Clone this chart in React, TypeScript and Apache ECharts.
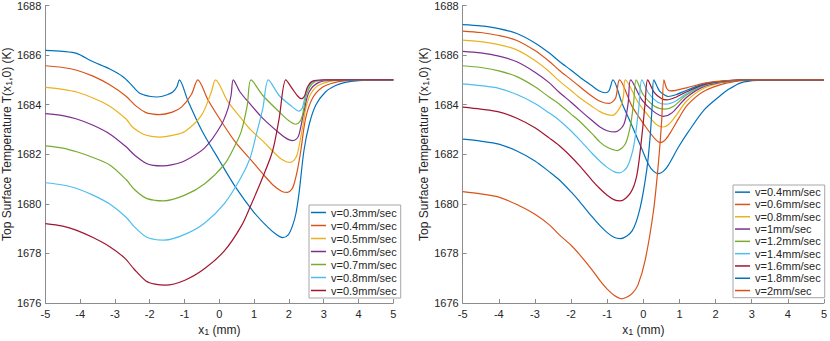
import React, { useEffect, useRef } from "react";
import * as echarts from "echarts";

// ---- Data (x in mm, T in K) ----
const xTicks = [-5, -4, -3, -2, -1, 0, 1, 2, 3, 4, 5];
const yTicks = [1676, 1678, 1680, 1682, 1684, 1686, 1688];

const leftNames = ["v=0.3mm/sec", "v=0.4mm/sec", "v=0.5mm/sec", "v=0.6mm/sec", "v=0.7mm/sec", "v=0.8mm/sec", "v=0.9mm/sec"];
const rightNames = ["v=0.4mm/sec", "v=0.6mm/sec", "v=0.8mm/sec", "v=1mm/sec", "v=1.2mm/sec", "v=1.4mm/sec", "v=1.6mm/sec", "v=1.8mm/sec", "v=2mm/sec"];

const left03 = [[-5, 1686.19], [-4.5, 1686.15], [-4.1, 1686.07], [-3.67, 1685.76], [-3.15, 1685.44], [-2.77, 1685.13], [-2.54, 1684.82], [-2.3, 1684.47], [-2.01, 1684.34], [-1.78, 1684.31], [-1.5, 1684.4], [-1.33, 1684.52], [-1.22, 1684.72], [-1.15, 1685.0], [-0.9, 1684.15], [-0.5, 1682.95], [0.0, 1681.75], [0.5, 1680.6], [1.0, 1679.65], [1.4, 1679.05], [1.65, 1678.75], [1.82, 1678.64], [1.98, 1678.75], [2.1, 1679.1], [2.2, 1679.6], [2.29, 1680.42], [2.43, 1682.13], [2.58, 1683.19], [2.77, 1683.98], [3.05, 1684.51], [3.34, 1684.77], [3.62, 1684.9], [4.0, 1684.97], [4.5, 1685.0], [5, 1685.0]];
const left04 = [[-5, 1685.57], [-4.5, 1685.5], [-4.1, 1685.39], [-3.63, 1685.15], [-3.15, 1684.8], [-2.68, 1684.34], [-2.39, 1683.94], [-2.11, 1683.68], [-1.9, 1683.62], [-1.73, 1683.6], [-1.35, 1683.7], [-1.08, 1683.91], [-0.8, 1684.42], [-0.62, 1685.0], [-0.32, 1684.18], [0.06, 1683.32], [0.44, 1682.53], [0.89, 1681.8], [1.25, 1681.21], [1.55, 1680.75], [1.8, 1680.5], [1.96, 1680.46], [2.08, 1680.58], [2.15, 1680.81], [2.25, 1681.4], [2.34, 1682.13], [2.48, 1683.45], [2.67, 1684.24], [2.96, 1684.7], [3.34, 1684.9], [3.8, 1684.98], [4.5, 1685.0], [5, 1685.0]];
const left05 = [[-5, 1684.7], [-4.5, 1684.62], [-4.1, 1684.51], [-3.63, 1684.27], [-3.15, 1683.94], [-2.68, 1683.42], [-2.49, 1683.09], [-2.2, 1682.82], [-1.95, 1682.72], [-1.7, 1682.69], [-1.35, 1682.76], [-0.99, 1682.92], [-0.51, 1683.58], [-0.23, 1684.51], [-0.11, 1685.0], [0.25, 1684.11], [0.63, 1683.45], [0.89, 1683.0], [1.25, 1682.53], [1.72, 1681.87], [1.92, 1681.7], [2.05, 1681.67], [2.16, 1681.78], [2.24, 1682.0], [2.39, 1683.06], [2.53, 1684.11], [2.77, 1684.7], [3.15, 1684.93], [3.6, 1684.99], [4.5, 1685.0], [5, 1685.0]];
const left06 = [[-5, 1683.64], [-4.5, 1683.56], [-4.1, 1683.42], [-3.63, 1683.17], [-3.15, 1682.82], [-2.68, 1682.3], [-2.44, 1681.97], [-2.11, 1681.64], [-1.9, 1681.55], [-1.63, 1681.53], [-1.35, 1681.58], [-0.99, 1681.74], [-0.42, 1682.26], [0.06, 1683.19], [0.25, 1683.85], [0.34, 1684.4], [0.4, 1685.0], [0.6, 1684.5], [0.89, 1684.02], [1.25, 1683.45], [1.72, 1682.86], [1.95, 1682.62], [2.1, 1682.55], [2.22, 1682.62], [2.29, 1682.79], [2.43, 1683.71], [2.58, 1684.51], [2.86, 1684.9], [3.3, 1684.98], [4.0, 1685.0], [5, 1685.0]];
const left07 = [[-5, 1682.34], [-4.5, 1682.25], [-4.1, 1682.1], [-3.63, 1681.87], [-3.15, 1681.57], [-2.68, 1680.98], [-2.44, 1680.58], [-2.11, 1680.23], [-1.85, 1680.14], [-1.6, 1680.12], [-0.99, 1680.35], [-0.42, 1680.81], [0.15, 1681.6], [0.45, 1682.35], [0.63, 1682.92], [0.8, 1683.95], [0.91, 1685.0], [1.25, 1684.37], [1.72, 1683.71], [2.0, 1683.35], [2.2, 1683.21], [2.32, 1683.33], [2.39, 1683.58], [2.53, 1684.51], [2.77, 1684.94], [3.3, 1685.0], [5, 1685.0]];
const left08 = [[-5, 1680.85], [-4.5, 1680.76], [-4.1, 1680.62], [-3.63, 1680.35], [-3.15, 1679.99], [-2.68, 1679.46], [-2.44, 1679.07], [-2.11, 1678.67], [-1.85, 1678.56], [-1.58, 1678.54], [-0.99, 1678.77], [-0.42, 1679.23], [0.15, 1680.02], [0.63, 1681.08], [0.89, 1681.87], [1.06, 1682.79], [1.25, 1683.85], [1.41, 1685.0], [1.72, 1684.37], [2.1, 1683.91], [2.29, 1683.74], [2.38, 1683.85], [2.43, 1684.11], [2.53, 1684.64], [2.72, 1684.94], [3.2, 1685.0], [5, 1685.0]];
const left09 = [[-5, 1679.2], [-4.5, 1679.1], [-4.1, 1678.93], [-3.63, 1678.64], [-3.15, 1678.27], [-2.72, 1677.81], [-2.44, 1677.35], [-2.11, 1676.89], [-1.85, 1676.76], [-1.55, 1676.72], [-0.99, 1676.92], [-0.42, 1677.39], [0.15, 1678.11], [0.63, 1679.1], [0.89, 1679.89], [1.25, 1681.08], [1.53, 1682.13], [1.72, 1683.45], [1.91, 1685.0], [2.1, 1684.64], [2.25, 1684.35], [2.36, 1684.24], [2.45, 1684.35], [2.53, 1684.7], [2.67, 1684.94], [3.0, 1685.0], [5, 1685.0]];

const right04 = [[-5, 1687.23], [-4.5, 1687.18], [-4, 1687.07], [-3.5, 1686.87], [-3, 1686.49], [-2.6, 1686.08], [-2.33, 1685.75], [-2.0, 1685.39], [-1.78, 1685.14], [-1.42, 1684.76], [-1.23, 1684.56], [-1.05, 1684.48], [-0.95, 1684.56], [-0.84, 1685.0], [-0.59, 1684.06], [-0.31, 1683.14], [-0.04, 1682.21], [0.14, 1681.6], [0.28, 1681.32], [0.42, 1681.22], [0.56, 1681.32], [0.69, 1681.55], [0.97, 1682.28], [1.23, 1682.87], [1.69, 1683.8], [2.15, 1684.39], [2.33, 1684.59], [2.7, 1684.88], [3.15, 1684.98], [4.0, 1685.0], [5, 1685.0]];
const right06 = [[-5, 1686.97], [-4.5, 1686.91], [-4, 1686.79], [-3.5, 1686.59], [-3, 1686.18], [-2.6, 1685.74], [-2.33, 1685.39], [-2.0, 1685.01], [-1.78, 1684.75], [-1.42, 1684.34], [-1.2, 1684.14], [-0.95, 1684.05], [-0.77, 1684.26], [-0.66, 1685.0], [-0.31, 1683.93], [0.05, 1683.14], [0.33, 1682.61], [0.48, 1682.47], [0.62, 1682.6], [0.78, 1682.95], [1.0, 1683.5], [1.23, 1684.0], [1.69, 1684.55], [2.33, 1684.88], [3.0, 1684.99], [4.0, 1685.0], [5, 1685.0]];
const right08 = [[-5, 1686.6], [-4.5, 1686.54], [-4, 1686.42], [-3.5, 1686.21], [-3, 1685.78], [-2.6, 1685.33], [-2.33, 1684.96], [-2.0, 1684.57], [-1.78, 1684.3], [-1.42, 1683.93], [-1.2, 1683.72], [-1.0, 1683.6], [-0.85, 1683.57], [-0.63, 1683.93], [-0.55, 1684.35], [-0.5, 1685.0], [-0.13, 1684.06], [0.23, 1683.4], [0.4, 1683.16], [0.55, 1683.1], [0.7, 1683.2], [0.9, 1683.55], [1.2, 1684.15], [1.7, 1684.68], [2.3, 1684.92], [3.0, 1685.0], [5, 1685.0]];
const right10 = [[-5, 1686.15], [-4.5, 1686.09], [-4, 1685.96], [-3.5, 1685.73], [-3, 1685.31], [-2.6, 1684.88], [-2.33, 1684.5], [-2.0, 1684.1], [-1.78, 1683.81], [-1.42, 1683.36], [-1.2, 1683.1], [-1.0, 1682.95], [-0.78, 1682.9], [-0.54, 1683.2], [-0.42, 1684.06], [-0.35, 1685.0], [-0.04, 1684.19], [0.28, 1683.73], [0.55, 1683.53], [0.8, 1683.68], [1.2, 1684.3], [1.7, 1684.75], [2.3, 1684.93], [3.0, 1685.0], [5, 1685.0]];
const right12 = [[-5, 1685.57], [-4.5, 1685.5], [-4, 1685.36], [-3.5, 1685.13], [-3, 1684.72], [-2.6, 1684.3], [-2.33, 1684.03], [-2.0, 1683.62], [-1.78, 1683.35], [-1.42, 1682.83], [-1.2, 1682.49], [-1.0, 1682.28], [-0.72, 1682.15], [-0.5, 1682.41], [-0.36, 1683.13], [-0.27, 1684.06], [-0.2, 1685.0], [0.0, 1684.4], [0.3, 1683.95], [0.6, 1683.82], [0.85, 1683.95], [1.2, 1684.4], [1.7, 1684.78], [2.3, 1684.94], [3.0, 1685.0], [5, 1685.0]];
const right14 = [[-5, 1684.84], [-4.5, 1684.77], [-4, 1684.66], [-3.5, 1684.41], [-3, 1684.05], [-2.6, 1683.66], [-2.33, 1683.37], [-2.0, 1682.94], [-1.78, 1682.61], [-1.42, 1682.04], [-1.2, 1681.72], [-1.0, 1681.47], [-0.8, 1681.29], [-0.66, 1681.25], [-0.45, 1681.48], [-0.3, 1682.1], [-0.22, 1682.74], [-0.13, 1683.8], [-0.04, 1685.0], [0.15, 1684.45], [0.4, 1684.1], [0.62, 1684.02], [0.9, 1684.15], [1.2, 1684.45], [1.7, 1684.8], [2.3, 1684.95], [3.0, 1685.0], [5, 1685.0]];
const right16 = [[-5, 1683.9], [-4.5, 1683.82], [-4, 1683.71], [-3.5, 1683.45], [-3, 1683.07], [-2.6, 1682.65], [-2.33, 1682.35], [-2.0, 1681.9], [-1.78, 1681.56], [-1.42, 1680.95], [-1.2, 1680.61], [-1.0, 1680.35], [-0.8, 1680.16], [-0.64, 1680.12], [-0.36, 1680.43], [-0.18, 1681.15], [-0.04, 1682.74], [0.05, 1684.06], [0.12, 1685.0], [0.3, 1684.5], [0.5, 1684.25], [0.65, 1684.19], [0.9, 1684.3], [1.2, 1684.52], [1.7, 1684.82], [2.3, 1684.96], [3.0, 1685.0], [5, 1685.0]];
const right18 = [[-5, 1682.61], [-4.5, 1682.53], [-4, 1682.41], [-3.5, 1682.13], [-3, 1681.73], [-2.6, 1681.29], [-2.33, 1680.97], [-2.0, 1680.48], [-1.78, 1680.12], [-1.42, 1679.48], [-1.2, 1679.12], [-1.0, 1678.84], [-0.8, 1678.64], [-0.63, 1678.6], [-0.31, 1678.91], [-0.09, 1679.83], [0.1, 1681.42], [0.19, 1682.74], [0.25, 1684.06], [0.29, 1685.0], [0.45, 1684.55], [0.6, 1684.38], [0.69, 1684.33], [0.9, 1684.4], [1.2, 1684.58], [1.7, 1684.85], [2.3, 1684.96], [3.0, 1685.0], [5, 1685.0]];
const right20 = [[-5, 1680.49], [-4.5, 1680.4], [-4, 1680.27], [-3.5, 1679.97], [-3, 1679.58], [-2.6, 1679.15], [-2.33, 1678.76], [-2.0, 1678.33], [-1.78, 1677.98], [-1.42, 1677.34], [-1.2, 1676.9], [-1.0, 1676.56], [-0.8, 1676.3], [-0.6, 1676.17], [-0.45, 1676.24], [-0.3, 1676.4], [-0.15, 1676.72], [0.05, 1677.72], [0.28, 1679.7], [0.42, 1681.68], [0.51, 1683.4], [0.57, 1685.0], [0.65, 1684.65], [0.74, 1684.56], [0.9, 1684.58], [1.2, 1684.68], [1.7, 1684.87], [2.3, 1684.97], [3.0, 1685.0], [5, 1685.0]];

const leftData = [left03, left04, left05, left06, left07, left08, left09];
const rightData = [right04, right06, right08, right10, right12, right14, right16, right18, right20];

const COLORS = ["#0072BD", "#D95319", "#EDB120", "#7E2F8E", "#77AC30", "#4DBEEE", "#A2142F"];
const FONT = "Liberation Sans, Arial, Helvetica, sans-serif";
const AXIS_COLOR = "#8c8c8c";
const TEXT_COLOR = "#262626";

const richTitle = {
  a: { fontSize: 12, lineHeight: 15, color: TEXT_COLOR, fontFamily: FONT, verticalAlign: "bottom" },
  s: { fontSize: 9, lineHeight: 9, color: TEXT_COLOR, fontFamily: FONT, verticalAlign: "bottom" },
};

function makeX(gridIndex: number) {
  return {
    type: "value",
    gridIndex,
    min: xTicks[0],
    max: xTicks[xTicks.length - 1],
    interval: 1,
    axisLine: { show: true, onZero: false, lineStyle: { color: AXIS_COLOR, width: 1 } },
    axisTick: { show: true, inside: true, length: 4, lineStyle: { color: AXIS_COLOR } },
    axisLabel: { color: TEXT_COLOR, fontSize: 11, fontFamily: FONT, margin: 5, formatter: (v: number) => String(v) },
    splitLine: { show: false },
    name: "{a|x}{s|1}{a| (mm)}",
    nameLocation: "middle",
    nameGap: 18,
    nameTextStyle: { color: TEXT_COLOR, fontFamily: FONT, rich: richTitle },
  };
}

function makeY(gridIndex: number) {
  return {
    type: "value",
    gridIndex,
    min: yTicks[0],
    max: yTicks[yTicks.length - 1],
    interval: 2,
    axisLine: { show: true, onZero: false, lineStyle: { color: AXIS_COLOR, width: 1 } },
    axisTick: { show: true, inside: true, length: 4, lineStyle: { color: AXIS_COLOR } },
    axisLabel: { color: TEXT_COLOR, fontSize: 11, fontFamily: FONT, margin: 4, formatter: (v: number) => String(v) },
    splitLine: { show: false },
    name: "{a|Top Surface Temperature T(x}{s|1}{a|,0) (K)}",
    nameLocation: "middle",
    nameGap: 30,
    nameTextStyle: { color: TEXT_COLOR, fontFamily: FONT, padding: [0, 0, 0, 20], rich: richTitle },
  };
}

function makeLegend(names: string[], left: number, top: number, lineHeight: number) {
  return {
    orient: "vertical",
    left,
    top,
    icon: "rect",
    itemWidth: 15,
    itemHeight: 1.5,
    itemGap: 0,
    padding: [1, 4, 1, 2],
    borderColor: "#a6a6a6",
    borderWidth: 1,
    backgroundColor: "#ffffff",
    selectedMode: false,
    textStyle: { fontSize: 11, color: TEXT_COLOR, fontFamily: FONT, lineHeight },
    data: names.map((n, i) => ({ name: n, icon: "rect", itemStyle: { color: COLORS[i % COLORS.length] } })),
  };
}

export default function App() {
  const ref = useRef<HTMLDivElement>(null);
  useEffect(() => {
    if (!ref.current) return;
    const chart = echarts.init(ref.current, undefined, { renderer: "svg" });
    const series: any[] = [];
    const add = (d: number[][], name: string, idx: number, i: number) => {
      series.push({
        type: "line",
        name,
        xAxisIndex: idx,
        yAxisIndex: idx,
        data: d,
        symbol: "none",
        smooth: 0.3,
        silent: true,
        lineStyle: { width: 1.2, color: COLORS[i % COLORS.length] },
        itemStyle: { color: COLORS[i % COLORS.length] },
      });
    };
    leftData.forEach((d, i) => add(d, leftNames[i], 0, i));
    rightData.forEach((d, i) => add(d, rightNames[i], 1, i));
    chart.setOption({
      animation: false,
      backgroundColor: "#ffffff",
      textStyle: { fontFamily: FONT },
      grid: [
        { left: 42.7, top: 5, width: 350.6, height: 303.3, containLabel: false },
        { left: 462.7, top: 4, width: 364.6, height: 302.7, containLabel: false },
      ],
      xAxis: [makeX(0), makeX(1)],
      yAxis: [makeY(0), makeY(1)],
      legend: [makeLegend(leftNames, 309, 205, 13), makeLegend(rightNames, 733, 185, 12.3)],
      series,
    });
    return () => chart.dispose();
  }, []);
  return (
    <div
      ref={ref}
      style={{ position: "fixed", left: 0, top: 0, width: 830, height: 341, background: "#fff" }}
    />
  );
}
